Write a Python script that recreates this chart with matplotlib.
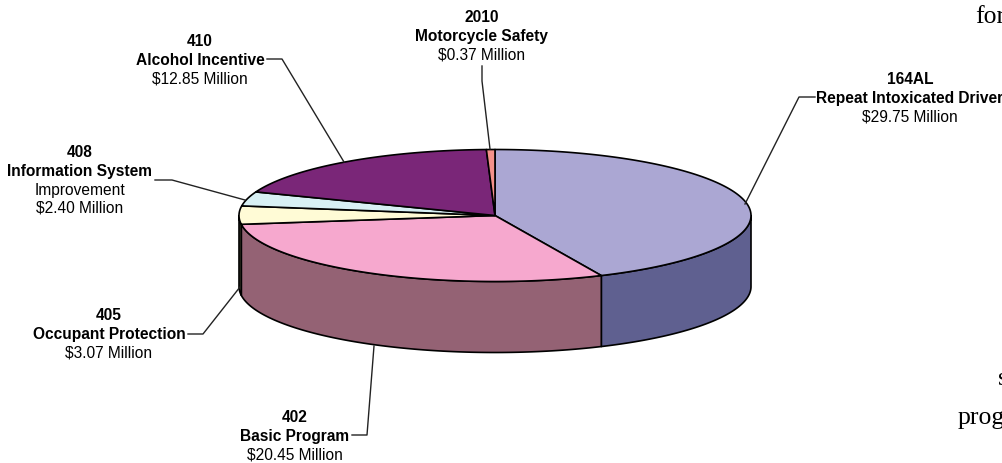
import numpy as np
import matplotlib
matplotlib.use('Agg')
import matplotlib.pyplot as plt

programs = ['164AL', '402', '405', '408', '410', '2010']
names = ['Repeat Intoxicated Driver', 'Basic Program', 'Occupant Protection',
         'Information System', 'Alcohol Incentive', 'Motorcycle Safety']
extra = ['', '', '', 'Improvement', '', '']
amounts = [29.75, 20.45, 3.07, 2.40, 12.85, 0.37]
top_colors = ['#aba7d3', '#f6a8ce', '#fffbd6', '#d8f0f4', '#7a2678', '#f4918a']
side_colors = ['#5f6090', '#946274', '#4a4834', '#5c6a6c', '#401040', '#80504c']

# label placement in pixels: centre x, first line y
label_x = [910, 295, 109, 80, 200, 482]
label_y = [80, 418, 316, 153, 42, 17.5]
# leader lines in pixels
leaders = [
    [(815, 98), (799, 98), (745, 205)],
    [(352, 436), (367, 436), (374, 347)],
    [(188, 335), (203, 335), (240, 288)],
    [(155, 181), (172, 181), (245, 201)],
    [(267, 60), (282, 60), (344, 163)],
    [(482, 67), (482, 82), (490, 150)],
]

CX, CY, RX, RY, DEPTH = 495, 216.5, 256, 66, 71
FONT = 11.2


def ellipse_points(a0, a1, dy=0):
    # angles are clockwise from the top of the pie, in degrees
    t = np.radians(np.linspace(a0, a1, max(int(abs(a1 - a0)) * 2, 2)))
    return CX + RX * np.sin(t), CY + dy - RY * np.cos(t)


fig = plt.figure(figsize=(10.03, 4.64), dpi=100)
ax = fig.add_axes([0, 0, 1, 1])
ax.set_xlim(0, 1003)
ax.set_ylim(464, 0)
ax.axis('off')

plt.rcParams['font.family'] = ['Liberation Sans', 'DejaVu Sans']

edges = np.cumsum([0] + amounts) / sum(amounts) * 360

# side wall, only the front half of the pie shows
for i in range(len(amounts)):
    a0 = max(edges[i], 90)
    a1 = min(edges[i + 1], 270)
    if a1 <= a0:
        continue
    x, y = ellipse_points(a0, a1)
    xb, yb = ellipse_points(a1, a0, DEPTH)
    ax.fill(np.r_[x, xb], np.r_[y, yb], facecolor=side_colors[i],
            edgecolor='black', linewidth=1.2, joinstyle='round')

# top face
for i in range(len(amounts)):
    x, y = ellipse_points(edges[i], edges[i + 1])
    ax.fill(np.r_[CX, x], np.r_[CY, y], facecolor=top_colors[i],
            edgecolor='black', linewidth=1.2, joinstyle='round')

for pts in leaders:
    xs, ys = zip(*pts)
    ax.plot(xs, ys, color='#222222', linewidth=1.0)

for i in range(len(programs)):
    y = label_y[i]
    ax.text(label_x[i], y, programs[i], ha='center', va='center', fontsize=FONT, fontweight='bold')
    y += 18.7
    ax.text(label_x[i], y, names[i], ha='center', va='center', fontsize=FONT, fontweight='bold')
    y += 18.7
    if extra[i]:
        ax.text(label_x[i], y, extra[i], ha='center', va='center', fontsize=FONT)
        y += 17.7
    ax.text(label_x[i], y, '$%.2f Million' % amounts[i], ha='center', va='center', fontsize=FONT)

# bits of the page text cut off at the right edge
for tx, ty, s in [(975, 23, 'for'), (998, 385, 's'), (958, 424, 'prog')]:
    ax.text(tx, ty, s, ha='left', va='baseline', fontsize=18.5, family='Liberation Serif', clip_on=True)

fig.savefig('out.png', dpi=100)
